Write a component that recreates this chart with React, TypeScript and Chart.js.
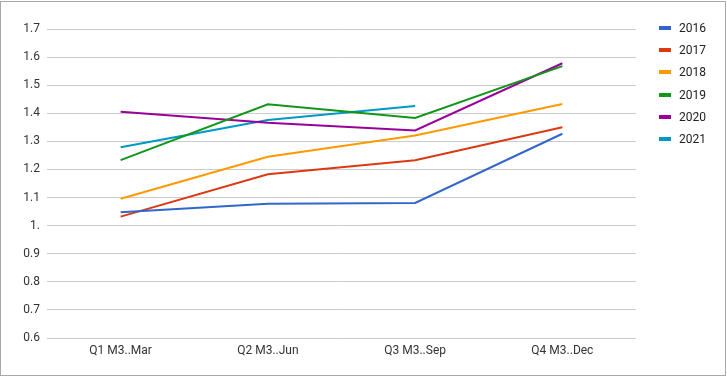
import React, { useEffect, useRef } from "react";
import { Chart, registerables } from "chart.js";

Chart.register(...registerables);

const categories = ["Q1 M3..Mar", "Q2 M3..Jun", "Q3 M3..Sep", "Q4 M3..Dec"];
const yTickLabels = ["0.6", "0.7", "0.8", "0.9", "1.", "1.1", "1.2", "1.3", "1.4", "1.5", "1.6", "1.7"];

const s2016 = [1.048, 1.078, 1.081, 1.327];
const s2017 = [1.032, 1.183, 1.233, 1.35];
const s2018 = [1.096, 1.245, 1.321, 1.433];
const s2019 = [1.233, 1.432, 1.383, 1.568];
const s2020 = [1.405, 1.366, 1.339, 1.578];
const s2021 = [1.279, 1.376, 1.426, null];

const seriesNames = ["2016", "2017", "2018", "2019", "2020", "2021"];
const seriesData = [s2016, s2017, s2018, s2019, s2020, s2021];
const colors = ["#3366cc", "#dc3912", "#ff9900", "#109618", "#990099", "#0099c6"];

const FONT = "Roboto, 'Noto Sans', sans-serif";

export default function App() {
  const ref = useRef<HTMLCanvasElement | null>(null);

  useEffect(() => {
    document.body.style.margin = "0";
    const ctx = ref.current!.getContext("2d")!;
    const chart = new Chart(ctx, {
      type: "line",
      data: {
        labels: categories,
        datasets: seriesNames.map((n, i) => ({
          label: n,
          data: seriesData[i],
          borderColor: colors[i],
          backgroundColor: colors[i],
          borderWidth: 2,
          pointRadius: 0,
          tension: 0,
          spanGaps: false,
        })),
      },
      options: {
        animation: false,
        responsive: false,
        maintainAspectRatio: false,
        layout: { padding: { left: 0, right: 91, top: 29, bottom: 0 } },
        plugins: { legend: { display: false }, tooltip: { enabled: false } },
        scales: {
          x: {
            offset: true,
            grid: { display: false, drawTicks: false },
            border: { display: false },
            ticks: { color: "#333", font: { family: FONT, size: 12 }, padding: 6, maxRotation: 0 },
            afterFit: (s: any) => { s.height = 44; },
          },
          y: {
            min: 0.6,
            max: 1.7,
            grid: { color: "#cccccc", drawTicks: false, lineWidth: 1 },
            border: { display: false },
            ticks: {
              stepSize: 0.1,
              color: "#333",
              font: { family: FONT, size: 12 },
              padding: 7,
              callback: (_v: any, i: number) => yTickLabels[i],
            },
            afterFit: (s: any) => { s.width = 47; },
          },
        },
      },
    });
    return () => chart.destroy();
  }, []);

  return (
    <div style={{ position: "absolute", left: 0, top: 0, width: 727, height: 382, background: "#fff" }}>
      <div style={{ position: "absolute", left: 0, top: 1, width: 724, height: 373, border: "1px solid #a8a8a8" }} />
      <canvas ref={ref} width={727} height={382} style={{ position: "absolute", left: 0, top: 0 }} />
      <div style={{ position: "absolute", left: 659, top: 17, fontFamily: FONT, fontSize: 12, color: "#222" }}>
        {seriesNames.map((n, i) => (
          <div key={n} style={{ display: "flex", alignItems: "center", height: 22.2 }}>
            <span style={{ display: "inline-block", width: 12, height: 4, background: colors[i], marginRight: 8 }} />
            <span>{n}</span>
          </div>
        ))}
      </div>
    </div>
  );
}
